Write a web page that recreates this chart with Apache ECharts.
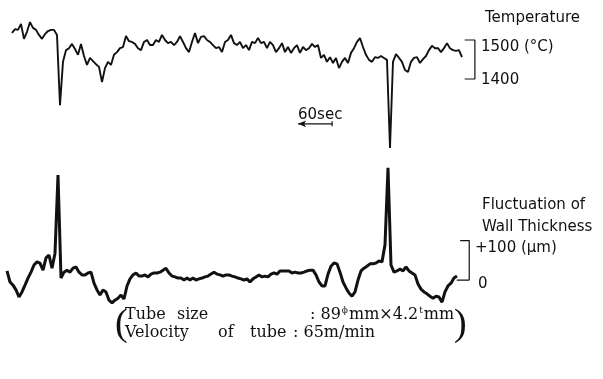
<!DOCTYPE html>
<html>
<head>
<meta charset="utf-8">
<script src="https://cdn.jsdelivr.net/npm/echarts@6/dist/echarts.min.js"></script>
<style>
html, body { margin: 0; padding: 0; background: #fff; }
#chart { width: 603px; height: 379px; }
</style>
</head>
<body>
<div id="chart"></div>
<script>
// recorder traces, one value every ~5.3 sec
var sampleStep = 5.294;

// temperature (°C)
var tempStart = 14.1;
var tempVals = [
    1518, 1528, 1526, 1541, 1503, 1521, 1546, 1531, 1526, 1513,
    1503, 1515, 1523, 1526, 1526, 1513, 1333, 1444, 1474, 1479,
    1490, 1477, 1462, 1490, 1459, 1436, 1454, 1446, 1438, 1431,
    1392, 1428, 1444, 1436, 1462, 1469, 1479, 1482, 1510, 1497,
    1495, 1490, 1479, 1474, 1495, 1500, 1487, 1487, 1500, 1495,
    1513, 1500, 1492, 1495, 1487, 1495, 1510, 1495, 1479, 1469,
    1495, 1518, 1492, 1508, 1510, 1500, 1495, 1487, 1479, 1482,
    1469, 1495, 1500, 1513, 1492, 1487, 1495, 1479, 1487, 1474,
    1495, 1492, 1505, 1492, 1495, 1479, 1495, 1487, 1469, 1479,
    1492, 1469, 1482, 1467, 1479, 1487, 1467, 1482, 1474, 1479,
    1490, 1482, 1487, 1454, 1462, 1444, 1456, 1441, 1454, 1428,
    1444, 1454, 1441, 1467, 1479, 1495, 1505, 1482, 1462, 1449,
    1444, 1456, 1454, 1459, 1454, 1449, 1223, 1444, 1464, 1454,
    1444, 1423, 1418, 1444, 1454, 1456, 1441, 1451, 1459, 1474,
    1485, 1479, 1479, 1469, 1479, 1492, 1479, 1474, 1472, 1474,
    1456
];

// fluctuation of wall thickness (um)
var thickStart = 5.3;
var thickVals = [
    23, -5, -13, -25, -43, -30, -13, 5, 20, 38,
    46, 43, 25, 56, 63, 30, 68, 266, 5, 20,
    25, 20, 30, 33, 20, 13, 13, 18, 20, -8,
    -25, -38, -25, -30, -51, -58, -51, -46, -38, -48,
    -15, 3, 13, 18, 10, 10, 13, 8, 15, 18,
    18, 20, 25, 30, 18, 10, 8, 5, 5, 0,
    5, 0, 5, 0, 3, 5, 8, 10, 15, 20,
    15, 13, 10, 13, 13, 10, 8, 5, 3, 0,
    3, -5, 3, 8, 13, 8, 10, 8, 15, 18,
    15, 23, 23, 23, 23, 18, 20, 18, 18, 20,
    23, 25, 25, 13, -5, -15, -15, 15, 35, 43,
    41, 20, -5, -20, -33, -41, -30, 0, 23, 30,
    35, 41, 41, 43, 48, 46, 89, 284, 38, 20,
    23, 28, 23, 33, 23, 18, 13, -10, -23, -30,
    -35, -41, -46, -41, -43, -56, -30, -15, -8, 5,
    10
];

// scale brackets and time marker
var tempScale = [1500, 1400];
var thickScale = [100, 0];
var timeMark = 60; // sec
var timeMarkAt = [519, 1285];

var chart = echarts.init(document.getElementById('chart'));

function toPairs(start, vals) {
    var out = [];
    for (var i = 0; i < vals.length; i++) {
        out.push([start + i * sampleStep, vals[i]]);
    }
    return out;
}

var hiddenX = { type: 'value', min: 0, max: 1050, show: false };
var labelFont = '15px "DejaVu Sans"';
var serifFont = '16px "DejaVu Serif"';

function txt(x, y, s, font) {
    return {
        type: 'text', x: x, y: y,
        style: { text: s, font: font || labelFont, fill: '#111', verticalAlign: 'middle' }
    };
}

var option = {
    backgroundColor: '#fff',
    animation: false,
    grid: [
        { left: 4, width: 595, top: 12.7, height: 144.3 },
        { left: 4, width: 595, top: 149.65, height: 162 }
    ],
    xAxis: [
        Object.assign({ gridIndex: 0 }, hiddenX),
        Object.assign({ gridIndex: 1 }, hiddenX)
    ],
    yAxis: [
        { type: 'value', gridIndex: 0, min: 1200, max: 1570, show: false },
        { type: 'value', gridIndex: 1, min: -80, max: 330, show: false }
    ],
    series: [
        {
            name: 'Temperature', type: 'line', xAxisIndex: 0, yAxisIndex: 0,
            showSymbol: false, smooth: false, lineStyle: { color: '#111', width: 1.9 },
            data: toPairs(tempStart, tempVals)
        },
        {
            name: 'Fluctuation of Wall Thickness', type: 'line', xAxisIndex: 1, yAxisIndex: 1,
            showSymbol: false, smooth: false, lineStyle: { color: '#111', width: 3 },
            data: toPairs(thickStart, thickVals)
        },
        {
            type: 'line', xAxisIndex: 0, yAxisIndex: 0, showSymbol: false,
            lineStyle: { color: '#111', width: 1.2 },
            data: [[813, tempScale[0]], [831, tempScale[0]], [831, tempScale[1]], [813, tempScale[1]]]
        },
        {
            type: 'line', xAxisIndex: 1, yAxisIndex: 1, showSymbol: false,
            lineStyle: { color: '#111', width: 1.2 },
            data: [[805, thickScale[0]], [821, thickScale[0]], [821, thickScale[1]], [799, thickScale[1]]]
        },
        {
            type: 'line', xAxisIndex: 0, yAxisIndex: 0,
            lineStyle: { color: '#111', width: 1.2 },
            itemStyle: { color: '#111' },
            data: [
                { value: timeMarkAt, symbol: 'arrow', symbolSize: [5, 8], symbolRotate: 90 },
                { value: [timeMarkAt[0] + timeMark, timeMarkAt[1]], symbol: 'rect', symbolSize: [1.2, 5] }
            ]
        }
    ],
    graphic: [
        txt(485, 18, 'Temperature'),
        txt(481, 47, '1500 (°C)'),
        txt(481, 80, '1400'),
        txt(298, 115, '60sec'),
        txt(482, 205, 'Fluctuation of'),
        txt(482, 227, 'Wall Thickness'),
        txt(475, 248, '+100 (μm)'),
        txt(478, 284, '0'),
        {
            type: 'text', x: 115, y: 325,
            style: { text: '(', font: '38px "Liberation Serif"', fill: '#111', verticalAlign: 'middle' }
        },
        {
            type: 'text', x: 454, y: 325,
            style: { text: ')', font: '38px "Liberation Serif"', fill: '#111', verticalAlign: 'middle' }
        },
        txt(125, 315, 'Tube', serifFont),
        txt(177, 315, 'size', serifFont),
        {
            type: 'text', x: 310, y: 315,
            style: {
                text: ': 89{s|ϕ}mm×4.2{s|t}mm',
                font: serifFont, fill: '#111', verticalAlign: 'middle',
                rich: { s: { font: '9px "DejaVu Serif"', fill: '#111', verticalAlign: 'top', padding: [0, 1, 8, 1] } }
            }
        },
        txt(125, 333, 'Velocity', serifFont),
        txt(218, 333, 'of', serifFont),
        txt(250, 333, 'tube', serifFont),
        txt(293, 333, ': 65m/min', serifFont)
    ]
};

chart.setOption(option);
</script>
</body>
</html>
